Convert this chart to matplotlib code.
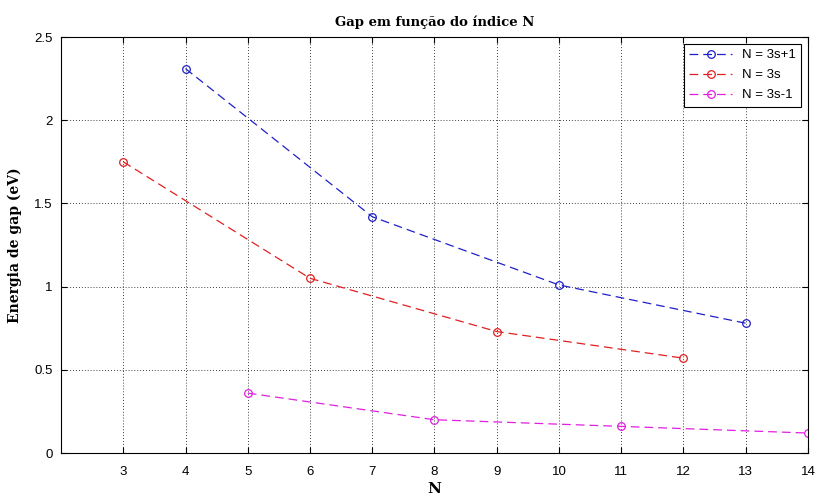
import matplotlib
matplotlib.use("Agg")
import matplotlib.pyplot as plt
from matplotlib.ticker import FuncFormatter

# data
n_3s1 = [4, 7, 10, 13]
gap_3s1 = [2.31, 1.42, 1.01, 0.78]
n_3s = [3, 6, 9, 12]
gap_3s = [1.75, 1.05, 0.73, 0.57]
n_3sm1 = [5, 8, 11, 14]
gap_3sm1 = [0.36, 0.20, 0.16, 0.12]

x_ticks = list(range(3, 15))
y_ticks = [0, 0.5, 1, 1.5, 2, 2.5]

plt.rcParams["font.family"] = ["Liberation Sans", "DejaVu Sans"]

fig = plt.figure(figsize=(8.19, 4.97), dpi=100)
ax = fig.add_axes([0.0745, 0.0885, 0.912, 0.837])

series = [
    (n_3s1, gap_3s1, "#2020c8", "N = 3s+1"),
    (n_3s, gap_3s, "#e02020", "N = 3s"),
    (n_3sm1, gap_3sm1, "#e020e0", "N = 3s-1"),
]
for xs, ys, color, label in series:
    ax.plot(xs, ys, linestyle=(0, (7, 4)), color=color, linewidth=0.9,
            marker="o", markersize=5.5, markerfacecolor="none",
            markeredgewidth=0.9, label=label)

ax.set_xlim(2, 14)
ax.set_ylim(0, 2.5)
ax.set_xticks(x_ticks)
ax.set_yticks(y_ticks)
ax.yaxis.set_major_formatter(FuncFormatter(lambda v, _: f"{v:g}"))
ax.tick_params(direction="in", length=4, labelsize=9.5, top=True, right=True)
ax.tick_params(axis="x", pad=9)
ax.tick_params(axis="y", pad=6)
ax.grid(True, linestyle=(0, (1, 2.5)), color="black", linewidth=0.6)
for sp in ax.spines.values():
    sp.set_linewidth(0.8)

ax.set_title("Gap em função do índice N", fontfamily="DejaVu Serif",
             fontweight="bold", fontsize=9.5, pad=8)
ax.set_xlabel("N", fontfamily="DejaVu Serif", fontweight="bold", fontsize=11,
              labelpad=3)
ax.set_ylabel("Energia de gap (eV)", fontfamily="DejaVu Serif",
              fontweight="bold", fontsize=10, labelpad=9)

leg = ax.legend(loc="upper right", fontsize=9.5, fancybox=False,
                framealpha=1, edgecolor="black", handlelength=3.2,
                labelspacing=0.6, borderaxespad=0.5)
leg.get_frame().set_linewidth(0.8)

fig.savefig("out.png", dpi=100)
